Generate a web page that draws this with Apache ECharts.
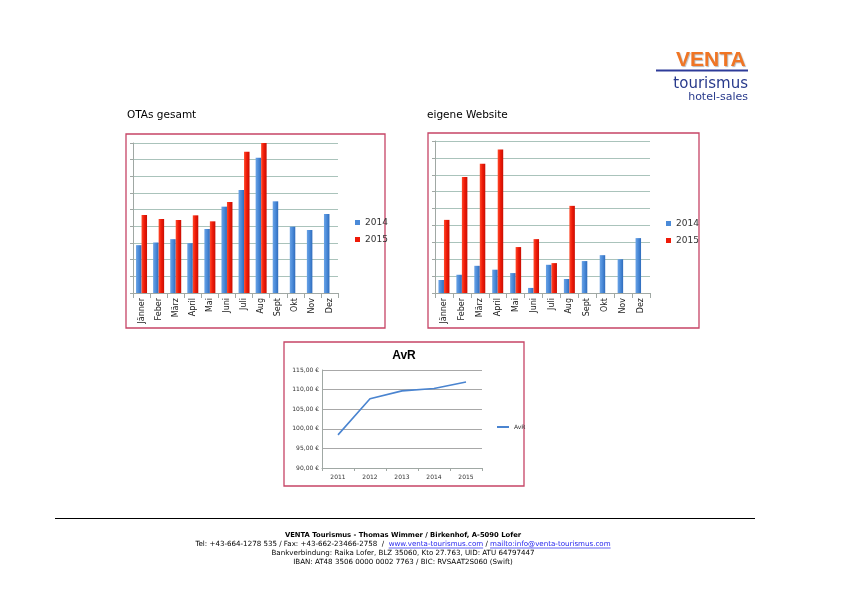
<!DOCTYPE html>
<html><head><meta charset="utf-8">
<script src="https://cdn.jsdelivr.net/npm/echarts@6/dist/echarts.min.js"></script>
<style>html,body{margin:0;padding:0;background:#fff}#c{width:842px;height:595px}</style>
</head><body><div id="c"></div>
<script>
const months = ['Jänner','Feber','März','April','Mai','Juni','Juli','Aug','Sept','Okt','Nov','Dez'];
const otas2014 = [2.87,3.03,3.23,2.99,3.84,5.18,6.18,8.11,5.50,3.98,3.78,4.74];
const otas2015 = [4.68,4.44,4.38,4.66,4.30,5.46,8.47,9.00,0,0,0,0];
const web2014 = [0.77,1.08,1.61,1.38,1.18,0.30,1.67,0.83,1.89,2.24,2.00,3.25];
const web2015 = [4.33,6.87,7.66,8.50,2.72,3.19,1.77,5.16,0,0,0,0];
const avrYears = ['2011','2012','2013','2014','2015'];
const avrValues = [98.45,107.65,109.68,110.27,111.96];

const blue = {type:'linear',x:0,y:0,x2:1,y2:0,colorStops:[{offset:0,color:'#6aa3e6'},{offset:0.5,color:'#4a8ad8'},{offset:1,color:'#2f6cbc'}]};
const red = {type:'linear',x:0,y:0,x2:1,y2:0,colorStops:[{offset:0,color:'#ff4a2a'},{offset:0.5,color:'#ee1a08'},{offset:1,color:'#c80e02'}]};
const gridCol = '#aac3bb';
const font = 'DejaVu Sans';

function catAxis(i){
  return {type:'category',gridIndex:i,data:months,
    axisLine:{lineStyle:{color:'#a0a8a4'}},axisTick:{show:true,alignWithLabel:false,lineStyle:{color:'#a0a8a4'}},
    axisLabel:{rotate:90,fontSize:8,color:'#222',fontFamily:font,margin:5}};
}
function valAxis(i){
  return {type:'value',gridIndex:i,min:0,max:9,interval:1,
    axisLine:{show:true,lineStyle:{color:'#a0a8a4'}},axisTick:{show:true,length:3,lineStyle:{color:'#a0a8a4'}},
    axisLabel:{show:false},splitLine:{lineStyle:{color:gridCol,width:1}}};
}
function bars(name,data,ax,color){
  return {type:'bar',name:name,xAxisIndex:ax,yAxisIndex:ax,data:data,barWidth:5.5,barGap:'0%',
    itemStyle:{color:color},silent:true,animation:false};
}
const legendItem = (top,left)=>({top:top,left:left,orient:'vertical',itemGap:8,itemWidth:5,itemHeight:5,
  textStyle:{fontSize:9,fontFamily:font,color:'#333'},data:[{name:'2014',icon:'rect',itemStyle:{color:'#4a8ad8'}},{name:'2015',icon:'rect',itemStyle:{color:'#ee1a08'}}]});

const box = (x,y,w,h)=>({type:'rect',shape:{x:x,y:y,width:w,height:h},style:{fill:'none',stroke:'#c64466',lineWidth:1.3},silent:true});
const txt = (x,y,t,opts)=>({type:'text',x:x,y:y,style:Object.assign({text:t,fontFamily:font,fontSize:8,fill:'#000',textAlign:'center',textVerticalAlign:'middle'},opts||{}),silent:true});

// footer line 2, with underlined links, laid out piece by piece
const fSize = 7.1;
const telParts = [
  {t:'Tel: +43-664-1278 535 / Fax: +43-662-23466-2758  /  ',link:false},
  {t:'www.venta-tourismus.com',link:true},
  {t:' / ',link:false},
  {t:'mailto:info@venta-tourismus.com',link:true}
];
const ctx = document.createElement('canvas').getContext('2d');
ctx.font = fSize+'px "DejaVu Sans"';
const widths = telParts.map(p=>ctx.measureText(p.t).width);
const total = widths.reduce((a,b)=>a+b,0);
let cx = 403 - total/2;
const telGraphics = [];
telParts.forEach((p,i)=>{
  telGraphics.push(txt(cx,544,p.t,{textAlign:'left',fontSize:fSize,fill:p.link?'#2222ee':'#000'}));
  if(p.link) telGraphics.push({type:'line',shape:{x1:cx,y1:548,x2:cx+widths[i],y2:548},style:{stroke:'#2222ee',lineWidth:0.7},silent:true});
  cx += widths[i];
});

const chart = echarts.init(document.getElementById('c'));
chart.setOption({
  animation:false,
  grid:[
    {left:133,top:143,width:205,height:150},
    {left:435,top:141,width:215,height:152},
    {left:322,top:370,width:160,height:98}
  ],
  xAxis:[catAxis(0),catAxis(1),
    {type:'category',gridIndex:2,data:avrYears,boundaryGap:true,
     axisLine:{lineStyle:{color:'#a0a8a4'}},axisTick:{show:true,length:3,lineStyle:{color:'#a0a8a4'}},
     axisLabel:{fontSize:6,color:'#333',fontFamily:font,margin:6}}],
  yAxis:[valAxis(0),valAxis(1),
    {type:'value',gridIndex:2,min:90,max:115,interval:5,
     axisLine:{show:true,lineStyle:{color:'#a0a8a4'}},axisTick:{show:false},
     splitLine:{lineStyle:{color:'#a8a8a8'}},
     axisLabel:{fontSize:6,color:'#333',fontFamily:font,margin:3,formatter:v=>v.toFixed(2).replace('.',',')+' €'}}],
  legend:[
    legendItem(213,350),
    legendItem(214,661),
    {top:419,left:492,itemWidth:12,itemHeight:2,textStyle:{fontSize:6,fontFamily:font,color:'#333'},
     data:[{name:'AvR',icon:'rect',itemStyle:{color:'#4a84d0'}}]}
  ],
  series:[
    bars('2014',otas2014,0,blue),bars('2015',otas2015,0,red),
    bars('2014',web2014,1,blue),bars('2015',web2015,1,red),
    {type:'line',name:'AvR',xAxisIndex:2,yAxisIndex:2,data:avrValues,symbol:'none',
     lineStyle:{color:'#4a84d0',width:1.6},itemStyle:{color:'#4a84d0'}}
  ],
  graphic:[
    box(126,134,259,194),
    box(428,133,271,195),
    box(284,342,240,144),
    txt(127,115,'OTAs gesamt',{textAlign:'left',fontSize:10.5}),
    txt(427,115,'eigene Website',{textAlign:'left',fontSize:10.5}),
    txt(404,356,'AvR',{fontSize:12,fontWeight:'bold',fontFamily:'Liberation Sans'}),
    // logo
    txt(676,60,'VENTA',{textAlign:'left',fontSize:21,fontWeight:'bold',fill:'#f07524',fontFamily:'Liberation Sans',
      textShadowColor:'rgba(120,120,120,0.5)',textShadowOffsetX:1,textShadowOffsetY:1,textShadowBlur:1}),
    {type:'line',shape:{x1:656,y1:70.5,x2:748,y2:70.5},style:{stroke:'#2e3c9a',lineWidth:1.8},silent:true},
    txt(748,84,'tourismus',{textAlign:'right',fontSize:15,fill:'#283a8c'}),
    txt(748,97,'hotel-sales',{textAlign:'right',fontSize:11,fill:'#283a8c'}),
    // footer
    {type:'line',shape:{x1:55,y1:518.5,x2:755,y2:518.5},style:{stroke:'#000',lineWidth:1},silent:true},
    txt(403,535,'VENTA Tourismus - Thomas Wimmer / Birkenhof, A-5090 Lofer',{fontWeight:'bold',fontSize:6.8}),
    ...telGraphics,
    txt(403,553,'Bankverbindung: Raika Lofer, BLZ 35060, Kto 27.763, UID: ATU 64797447',{fontSize:fSize}),
    txt(403,562,'IBAN: AT48 3506 0000 0002 7763 / BIC: RVSAAT2S060 (Swift)',{fontSize:fSize})
  ]
});
</script></body></html>
